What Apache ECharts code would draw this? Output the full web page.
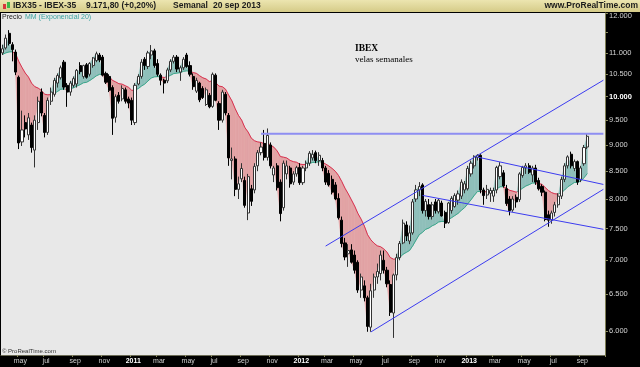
<!DOCTYPE html>
<html><head><meta charset="utf-8">
<script src="https://cdn.jsdelivr.net/npm/echarts@6/dist/echarts.min.js"></script>
<style>html,body{margin:0;padding:0;background:#000}#c{width:640px;height:367px}</style>
</head><body><div id="c"></div>
<script>
// ---- data (weekly IBEX-35, first week ending 2010-04-02) ----
const startDate = '2010-04-02';
const padWeeks = 5;
const opens = [11000,11120,11480,11200,11020,10430,9060,9450,9200,9400,8900,9450,10100,9600,9250,9900,10050,10300,10420,10780,10250,10100,10250,10280,10700,10450,10720,10500,10700,10820,10950,10900,10520,10450,10200,9560,10030,9950,10150,9950,9920,9450,10280,10450,10850,10680,10950,11050,10750,10480,10365,10350,10600,10800,10900,10550,10650,10950,10700,10450,10120,10300,10180,9830,10030,9790,10480,9850,9500,10050,9600,8700,8730,8170,8360,8330,7760,8180,8160,8600,8850,9030,8760,9000,8430,8600,8300,7850,8450,8560,8300,8450,8570,8290,8560,8650,8750,8850,8700,8700,8560,8460,8350,8250,8010,7640,7270,7100,7160,7080,6970,6560,6620,6450,6050,6560,6750,6800,7000,6850,6640,6240,6780,7040,7270,7560,7300,7430,8000,8160,8250,7800,7900,7700,7950,7780,7930,7770,7600,7800,7870,7980,8050,8160,8180,8450,8600,8760,8800,8160,8070,8100,8050,8160,8400,8470,8180,8000,7810,8030,7990,8420,8560,8600,8430,8560,8330,8220,8120,7730,7640,7770,7900,8050,8350,8600,8820,8550,8680,8350,8640,8960];
const highs = [11200,11450,11560,11260,11080,10470,9700,9600,9650,9450,9600,10000,10180,9650,9980,10200,10420,10520,10700,10830,10300,10350,10450,10620,10780,10720,10760,10780,10900,11030,11000,10950,10560,10500,10250,10050,10100,10250,10200,10000,9980,10300,10500,10850,10900,11050,11190,11100,10850,10520,10400,10650,10850,10950,10950,10700,10900,11000,10800,10520,10420,10330,10230,10200,10080,10540,10520,9900,10150,10100,9650,8950,8780,8400,8650,8400,8450,8250,8650,8900,9050,9300,9330,9050,8600,8650,8350,8700,8700,8600,8500,8600,8650,8600,8700,8880,8900,8890,8860,8750,8600,8520,8420,8300,8100,7700,7350,7250,7250,7150,7000,6800,6700,6480,6650,6800,6950,7150,7150,6900,6700,6800,7100,7300,7650,7620,7550,8000,8250,8300,8280,8000,8000,7950,8000,8000,7970,7800,7950,8050,8100,8150,8350,8320,8600,8700,8800,8820,8820,8200,8250,8200,8200,8600,8670,8520,8250,8050,8050,8080,8480,8600,8650,8650,8600,8620,8380,8260,8150,7800,7800,7950,8100,8400,8650,8800,8870,8720,8700,8600,9000,9230];
const lows = [10950,11080,11180,10800,10480,8920,8980,9150,9100,8850,8570,9300,9580,9150,9200,9820,10000,10200,10380,10150,9780,10020,10200,10200,10500,10400,10400,10450,10650,10780,10780,10450,10280,10100,9200,9450,9850,9900,9850,9750,9400,9400,10250,10400,10600,10620,10850,10650,10450,10250,10070,10300,10550,10750,10550,10350,10600,10650,10450,10150,10080,9880,9950,9800,9750,9760,9900,9300,9450,9600,8600,8350,8050,8000,8300,7850,7640,7880,8100,8500,8800,8700,8700,8550,8300,8150,7620,7800,8350,8200,8250,8400,8250,8250,8500,8600,8700,8650,8600,8500,8250,8220,8080,7980,7650,7200,7000,6900,6950,6800,6520,6450,6400,5990,5990,6450,6650,6700,6800,6600,6200,5910,6700,7000,7250,7300,7250,7400,7950,8050,7750,7700,7650,7650,7750,7750,7700,7510,7580,7750,7850,7900,8000,8100,8150,8400,8550,8700,8100,7900,8000,7950,7950,8100,8350,8200,7880,7720,7780,7850,7950,8380,8450,8450,8300,8250,8150,8050,7620,7530,7580,7700,7850,8000,8300,8550,8550,8500,8250,8300,8600,8920];
const closes = [11100,11360,11230,11080,10550,9040,9300,9320,9550,8950,9500,9900,9650,9250,9920,10100,10360,10470,10650,10210,10100,10300,10400,10590,10560,10700,10430,10750,10880,10980,10830,10480,10320,10140,9540,10000,9900,10180,9900,9860,9500,10250,10450,10780,10700,11000,11050,10700,10500,10365,10300,10600,10800,10900,10620,10650,10850,10680,10500,10220,10360,9930,9980,10150,9780,10500,9920,9500,10100,9650,8750,8730,8170,8270,8550,7890,8400,7960,8590,8850,8960,8760,9190,8600,8560,8200,7750,8650,8600,8270,8450,8566,8290,8560,8650,8840,8820,8700,8800,8560,8300,8250,8120,8000,7680,7260,7050,7150,6970,6850,6560,6750,6450,6060,6550,6750,6830,7080,6850,6650,6250,6780,7040,7260,7590,7380,7430,7950,8160,8220,7800,7960,7700,7900,7800,7980,7710,7590,7930,8010,8060,8090,8300,8270,8550,8650,8780,8800,8160,8060,8170,8150,8150,8570,8600,8230,7920,7800,8000,7950,8450,8570,8600,8480,8560,8300,8180,8120,7650,7640,7760,7900,8050,8350,8600,8770,8600,8680,8300,8560,8950,9172];
const emaSeed = 10950;            // EMA(20) level before the first visible week
const yTicks = [6000,6500,7000,7500,8000,8500,9000,9500,10000,10500,11000,11500,12000];
const yLabelTicks = [6000,6500,7000,7500,8000,8500,9000,9500,10000,10500,11000,12000];
const yRange = [5694, 12000];
const monthNames = ['ene','feb','mar','abr','may','jun','jul','ago','sep','oct','nov','dic'];
// trend lines: [weekIndex, value] end points
const hLine = [[80, 9224], [186, 9224]];
const channelUp = [[100, 7220], [186, 10365]];
const channelLow = [[114, 5987], [186, 8171]];
const descUp = [[147, 8766], [186, 8258]];
const descLow = [[130, 8063], [186, 7489]];

// ---- build ----
const L = v => Math.log10(v);
const n = closes.length;
const categories = [];
{
  const d0 = new Date(startDate + 'T00:00:00Z');
  for (let i = 0; i < n + padWeeks; i++) {
    const d = new Date(d0.getTime() + i * 7 * 86400000);
    categories.push(d.toISOString().slice(0, 10));
  }
}
const candleData = closes.map((c, i) => [L(opens[i]), L(c), L(lows[i]), L(highs[i])]);
let e = emaSeed;
const ema = closes.map(c => (e = e + (2 / 21) * (c - e)));
const fillData = [];
for (let i = 1; i < n; i++) fillData.push([i, L(closes[i - 1]), L(closes[i]), L(ema[i - 1]), L(ema[i])]);

const RED_FILL = '#e2a3a5', TEAL_FILL = '#8fbfba', RED_LINE = '#d8314f', TEAL_LINE = '#3aa68a';
function isTick(value) {
  const d = new Date(value + 'T00:00:00Z');
  return d.getUTCMonth() % 2 === 0 && d.getUTCDate() <= 7;
}
function fmtNum(v) {
  const s = String(Math.round(v));
  return s.slice(0, -3) + '.' + s.slice(-3);
}
const lineSeries = (data, color, width) => ({
  type: 'line', data: data.map(p => [p[0], L(p[1])]), showSymbol: false, silent: true,
  lineStyle: { color, width }, z: 4, animation: false
});

const chart = echarts.init(document.getElementById('c'), null, { renderer: 'canvas' });
chart.setOption({
  animation: false,
  backgroundColor: '#000',
  grid: { left: 1, right: 35, top: 13, bottom: 12, show: true, backgroundColor: '#e8e8e8', borderWidth: 0 },
  xAxis: {
    type: 'category', data: categories, boundaryGap: true,
    axisLine: { show: true, lineStyle: { color: '#6b6b55', width: 1 } },
    axisTick: { show: true, interval: (i, v) => isTick(v), length: 2, lineStyle: { color: '#8a8a60' } },
    axisLabel: {
      interval: (i, v) => isTick(v), margin: 3, fontSize: 7, color: '#d0d0d0',
      fontFamily: '"Liberation Sans", Arial, sans-serif', padding: [0, 0, 0, 3],
      formatter: v => {
        const d = new Date(v + 'T00:00:00Z');
        const m = d.getUTCMonth();
        return m === 0 ? '{y|' + d.getUTCFullYear() + '}' : monthNames[m];
      },
      rich: { y: { fontSize: 7, fontWeight: 'bold', color: '#ffffff', fontFamily: '"Liberation Sans", Arial, sans-serif' } }
    },
    splitLine: { show: false }
  },
  yAxis: {
    type: 'value', position: 'right', min: L(yRange[0]), max: L(yRange[1]), scale: true,
    axisLine: { show: true, lineStyle: { color: '#7d7d55', width: 1 } },
    axisTick: { show: true, customValues: yTicks.map(L), length: 3, lineStyle: { color: '#8a8a60' } },
    axisLabel: {
      customValues: yLabelTicks.map(L), margin: 4, fontSize: 7.5, color: '#d4d4d4',
      fontFamily: '"Liberation Sans", Arial, sans-serif',
      formatter: v => {
        const val = Math.round(Math.pow(10, v) / 100) * 100;
        const s = fmtNum(val);
        if (val === 10000) return '{b|' + s + '}';
        if (val === 12000) return '{t|' + s + '}';
        return s;
      },
      rich: {
        b: { fontSize: 7.5, fontWeight: 'bold', color: '#ffffff', fontFamily: '"Liberation Sans", Arial, sans-serif' },
        t: { fontSize: 7.5, color: '#d4d4d4', padding: [6, 0, 0, 0], fontFamily: '"Liberation Sans", Arial, sans-serif' }
      }
    },
    splitLine: { show: false }
  },
  series: [
    {
      type: 'custom', data: fillData, clip: true, silent: true, z: 1,
      encode: { x: 0, y: [1, 2, 3, 4] },
      renderItem: (params, api) => {
        const i = api.value(0);
        const c0 = api.value(1), c1 = api.value(2), e0 = api.value(3), e1 = api.value(4);
        const a = api.coord([i - 1, c0]), b = api.coord([i, c1]);
        const ea = api.coord([i - 1, e0]), eb = api.coord([i, e1]);
        const d0 = c0 - e0, d1 = c1 - e1;
        const ch = [];
        const poly = (pts, up) => ch.push({ type: 'polygon', shape: { points: pts }, style: { fill: up ? TEAL_FILL : RED_FILL, stroke: up ? TEAL_FILL : RED_FILL, lineWidth: 0.6 } });
        const seg = (p, q, up) => ch.push({ type: 'line', shape: { x1: p[0], y1: p[1], x2: q[0], y2: q[1] }, style: { stroke: up ? TEAL_LINE : RED_LINE, lineWidth: 1 }, z2: 5 });
        if (d0 * d1 >= 0) {
          const up = (d0 + d1) >= 0;
          poly([a, b, eb, ea], up);
          seg(ea, eb, up);
        } else {
          const t = d0 / (d0 - d1);
          const X = [ea[0] + (eb[0] - ea[0]) * t, ea[1] + (eb[1] - ea[1]) * t];
          poly([a, X, ea], d0 > 0);
          poly([X, b, eb], d1 > 0);
          seg(ea, X, d0 > 0);
          seg(X, eb, d1 > 0);
        }
        return { type: 'group', children: ch };
      }
    },
    {
      type: 'candlestick', data: candleData, barWidth: 2.6, z: 3, silent: true,
      itemStyle: { color: '#ffffff', color0: '#000000', borderColor: '#333333', borderColor0: '#000000', borderWidth: 1 }
    },
    lineSeries(hLine, '#8e8ef2', 2),
    lineSeries(channelUp, '#3c3cf0', 1),
    lineSeries(channelLow, '#3c3cf0', 1),
    lineSeries(descUp, '#3c3cf0', 1),
    lineSeries(descLow, '#3c3cf0', 1)
  ],
  graphic: [
    { type: 'rect', shape: { x: 0, y: 0, width: 640, height: 12 }, z: 10,
      style: { fill: { type: 'linear', x: 0, y: 0, x2: 0, y2: 1, colorStops: [{ offset: 0, color: '#ece5b0' }, { offset: 1, color: '#d5cb88' }] } } },
    { type: 'rect', shape: { x: 3, y: 4, width: 3, height: 5 }, z: 11, style: { fill: '#d8363c' } },
    { type: 'rect', shape: { x: 7, y: 2, width: 3, height: 6 }, z: 11, style: { fill: '#3cb84a' } },
    { type: 'text', x: 13, y: 6, z: 11, style: { text: 'IBX35 - IBEX-35', font: 'bold 8.5px "Liberation Sans", Arial', fill: '#1c1c1c', verticalAlign: 'middle' } },
    { type: 'text', x: 86, y: 6, z: 11, style: { text: '9.171,80 (+0,20%)', font: 'bold 8.5px "Liberation Sans", Arial', fill: '#1c1c1c', verticalAlign: 'middle' } },
    { type: 'text', x: 173, y: 6, z: 11, style: { text: 'Semanal', font: 'bold 8.5px "Liberation Sans", Arial', fill: '#1c1c1c', verticalAlign: 'middle' } },
    { type: 'text', x: 213, y: 6, z: 11, style: { text: '20 sep 2013', font: 'bold 8.5px "Liberation Sans", Arial', fill: '#1c1c1c', verticalAlign: 'middle' } },
    { type: 'text', x: 638, y: 6, z: 11, style: { text: 'www.ProRealTime.com', font: 'bold 8.5px "Liberation Sans", Arial', fill: '#1c1c1c', align: 'right', verticalAlign: 'middle' } },
    { type: 'text', x: 2, y: 17.5, z: 11, style: { text: 'Precio', font: '7px "Liberation Sans", Arial', fill: '#222', verticalAlign: 'middle' } },
    { type: 'text', x: 25, y: 17.5, z: 11, style: { text: 'MM (Exponencial 20)', font: '7px "Liberation Sans", Arial', fill: '#3aa2a0', verticalAlign: 'middle' } },
    { type: 'text', x: 355, y: 49, z: 11, style: { text: 'IBEX', font: 'bold 9.5px "Liberation Serif", "Times New Roman", serif', fill: '#000', verticalAlign: 'middle' } },
    { type: 'text', x: 355, y: 59.5, z: 11, style: { text: 'velas semanales', font: '9px "Liberation Serif", "Times New Roman", serif', fill: '#000', verticalAlign: 'middle' } },
    { type: 'text', x: 2, y: 351, z: 11, style: { text: '© ProRealTime.com', font: '6px "Liberation Sans", Arial', fill: '#333', verticalAlign: 'middle' } }
  ]
});
</script>
</body></html>
